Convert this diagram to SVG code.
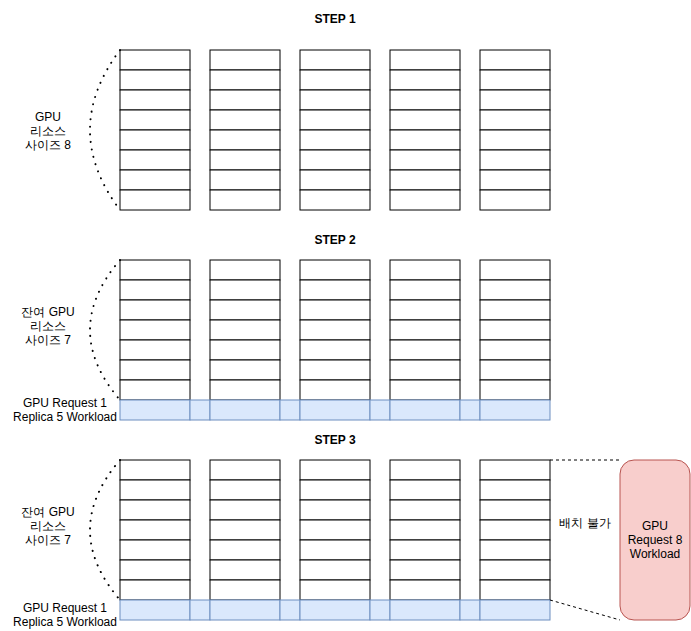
<svg xmlns="http://www.w3.org/2000/svg" width="691" height="631" viewBox="0 0 691 631">
<defs>
<style>
text{font-family:"Liberation Sans",Arial,sans-serif;font-size:12px;fill:#000}
.t{font-weight:bold;text-anchor:middle}
.c{text-anchor:middle}
.cell{fill:#fff;stroke:#000;stroke-width:1}
.blue{fill:#dae8fc;stroke:#6c8ebf;stroke-width:1}
.dot{fill:none;stroke:#000;stroke-width:2;stroke-dasharray:0.1 7.5;stroke-linecap:round}
.dash{fill:none;stroke:#000;stroke-width:1;stroke-dasharray:3 3}
</style>
<g id="col8">
<rect class="cell" x="0" y="0" width="70" height="20"/>
<rect class="cell" x="0" y="20" width="70" height="20"/>
<rect class="cell" x="0" y="40" width="70" height="20"/>
<rect class="cell" x="0" y="60" width="70" height="20"/>
<rect class="cell" x="0" y="80" width="70" height="20"/>
<rect class="cell" x="0" y="100" width="70" height="20"/>
<rect class="cell" x="0" y="120" width="70" height="20"/>
<rect class="cell" x="0" y="140" width="70" height="20"/>
</g>
<g id="col7">
<rect class="cell" x="0" y="0" width="70" height="20"/>
<rect class="cell" x="0" y="20" width="70" height="20"/>
<rect class="cell" x="0" y="40" width="70" height="20"/>
<rect class="cell" x="0" y="60" width="70" height="20"/>
<rect class="cell" x="0" y="80" width="70" height="20"/>
<rect class="cell" x="0" y="100" width="70" height="20"/>
<rect class="cell" x="0" y="120" width="70" height="20"/>
</g>
<g id="strip">
<rect class="blue" x="120" y="0" width="70" height="20"/>
<rect class="blue" x="190" y="0" width="20" height="20"/>
<rect class="blue" x="210" y="0" width="70" height="20"/>
<rect class="blue" x="280" y="0" width="20" height="20"/>
<rect class="blue" x="300" y="0" width="70" height="20"/>
<rect class="blue" x="370" y="0" width="20" height="20"/>
<rect class="blue" x="390" y="0" width="70" height="20"/>
<rect class="blue" x="460" y="0" width="20" height="20"/>
<rect class="blue" x="480" y="0" width="70" height="20"/>
</g>
</defs>

<g id="step1">
<text class="t" x="335" y="23">STEP 1</text>
<use href="#col8" x="120" y="50"/>
<use href="#col8" x="210" y="50"/>
<use href="#col8" x="300" y="50"/>
<use href="#col8" x="390" y="50"/>
<use href="#col8" x="480" y="50"/>
<text class="c" x="48" y="121">GPU</text>
<text class="c" x="48" y="135">리소스</text>
<text class="c" x="48" y="149">사이즈 8</text>
</g>

<g id="step2">
<text class="t" x="335" y="244">STEP 2</text>
<use href="#col7" x="120" y="260"/>
<use href="#col7" x="210" y="260"/>
<use href="#col7" x="300" y="260"/>
<use href="#col7" x="390" y="260"/>
<use href="#col7" x="480" y="260"/>
<use href="#strip" x="0" y="400"/>
<text class="c" x="48" y="316">잔여 GPU</text>
<text class="c" x="48" y="330">리소스</text>
<text class="c" x="48" y="344">사이즈 7</text>
<text class="c" x="65" y="407">GPU Request 1</text>
<text class="c" x="65" y="421">Replica 5 Workload</text>
</g>

<g id="step3">
<text class="t" x="335" y="444">STEP 3</text>
<use href="#col7" x="120" y="460"/>
<use href="#col7" x="210" y="460"/>
<use href="#col7" x="300" y="460"/>
<use href="#col7" x="390" y="460"/>
<use href="#col7" x="480" y="460"/>
<use href="#strip" x="0" y="600"/>
<text class="c" x="48" y="516">잔여 GPU</text>
<text class="c" x="48" y="530">리소스</text>
<text class="c" x="48" y="544">사이즈 7</text>
<text class="c" x="65" y="612">GPU Request 1</text>
<text class="c" x="65" y="626">Replica 5 Workload</text>
<text class="c" x="585" y="527">배치 불가</text>
</g>

<g id="workload8">
<rect x="620" y="460" width="70" height="160" rx="14" ry="14" fill="#f8cecc" stroke="#b85450" stroke-width="1"/>
<text class="c" x="655" y="530">GPU</text>
<text class="c" x="655" y="544">Request 8</text>
<text class="c" x="655" y="558">Workload</text>
</g>

<g id="connectors">
<path class="dot" d="M120,50 Q60,130 120,210"/>
<path class="dot" d="M120,260 Q60,330 120,400"/>
<path class="dot" d="M120,460 Q60,530 120,600"/>
<path class="dash" d="M550,460 L620,460"/>
<path class="dash" d="M550,600 L620,620"/>
</g>
</svg>
